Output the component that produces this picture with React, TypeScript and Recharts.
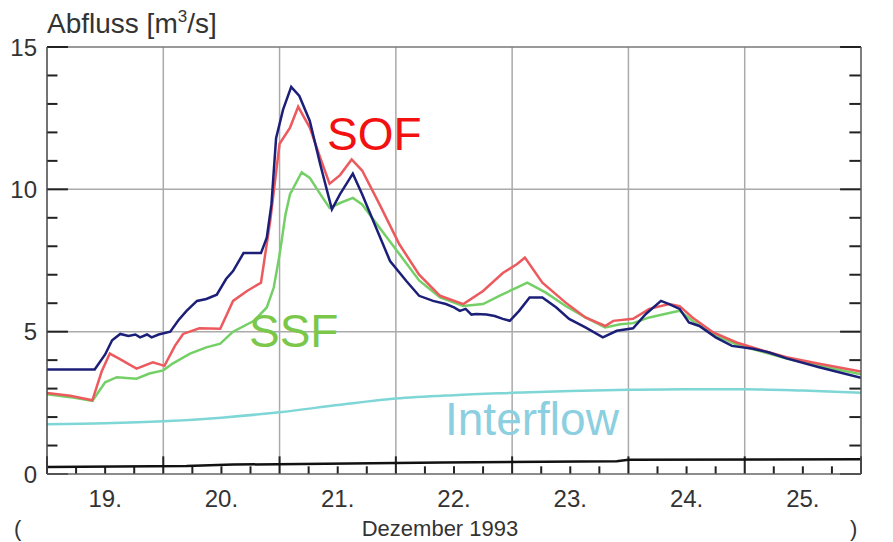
import React from 'react';
import { LineChart, Line, XAxis, YAxis, ReferenceLine } from 'recharts';

// time axis: days since 19 Dec 1993, 00:00
const obsT = [0, 0.41, 0.5, 0.56, 0.63, 0.7, 0.76, 0.8, 0.86, 0.9, 0.96, 1.06, 1.13, 1.2, 1.29, 1.37, 1.46, 1.54, 1.6, 1.69, 1.84, 1.89, 1.93, 1.97, 2.03, 2.1, 2.17, 2.26, 2.35, 2.45, 2.52, 2.63, 2.71, 2.83, 2.95, 3.09, 3.2, 3.32, 3.43, 3.5, 3.55, 3.6, 3.65, 3.69, 3.78, 3.85, 3.92, 3.98, 4.06, 4.15, 4.26, 4.38, 4.49, 4.63, 4.78, 4.9, 5.04, 5.15, 5.28, 5.35, 5.44, 5.52, 5.61, 5.75, 5.89, 6.07, 6.21, 6.36, 6.64, 7.0];
const obsQ = [3.67, 3.67, 4.2, 4.7, 4.92, 4.85, 4.9, 4.8, 4.9, 4.8, 4.9, 5.0, 5.4, 5.73, 6.08, 6.15, 6.3, 6.85, 7.13, 7.76, 7.76, 8.3, 9.47, 11.8, 12.8, 13.6, 13.28, 12.4, 10.87, 9.3, 9.83, 10.55, 9.83, 8.65, 7.48, 6.78, 6.26, 6.08, 5.97, 5.85, 5.73, 5.8, 5.6, 5.62, 5.6, 5.55, 5.45, 5.38, 5.73, 6.2, 6.2, 5.85, 5.45, 5.15, 4.8, 5.03, 5.12, 5.62, 6.08, 5.97, 5.8, 5.32, 5.2, 4.8, 4.5, 4.4, 4.27, 4.06, 3.75, 3.38];

const sofT = [0, 0.2, 0.39, 0.47, 0.54, 0.62, 0.77, 0.91, 1.01, 1.1, 1.17, 1.31, 1.49, 1.6, 1.72, 1.84, 1.92, 2.0, 2.09, 2.16, 2.26, 2.35, 2.43, 2.52, 2.62, 2.71, 2.86, 3.03, 3.2, 3.38, 3.58, 3.75, 3.92, 4.04, 4.11, 4.26, 4.46, 4.63, 4.8, 4.87, 5.04, 5.18, 5.35, 5.44, 5.55, 5.73, 5.93, 6.16, 6.36, 6.64, 7.0];
const sofQ = [2.85, 2.75, 2.59, 3.6, 4.23, 4.05, 3.7, 3.92, 3.8, 4.5, 4.92, 5.12, 5.1, 6.08, 6.43, 6.72, 8.9, 11.6, 12.17, 12.9, 12.17, 11.1, 10.2, 10.5, 11.05, 10.66, 9.47, 8.07, 7.0, 6.26, 5.97, 6.43, 7.06, 7.37, 7.6, 6.72, 6.02, 5.5, 5.2, 5.38, 5.45, 5.8, 5.97, 5.9, 5.5, 4.97, 4.62, 4.33, 4.1, 3.87, 3.6];

const ssfT = [0, 0.2, 0.39, 0.5, 0.6, 0.77, 0.88, 1.0, 1.08, 1.23, 1.37, 1.49, 1.6, 1.78, 1.89, 1.95, 2.0, 2.05, 2.09, 2.19, 2.26, 2.35, 2.43, 2.52, 2.63, 2.71, 2.86, 3.03, 3.2, 3.38, 3.58, 3.75, 3.89, 4.04, 4.13, 4.29, 4.46, 4.63, 4.8, 4.93, 5.04, 5.18, 5.38, 5.44, 5.55, 5.73, 5.93, 6.16, 6.36, 6.64, 7.0];
const ssfQ = [2.8, 2.7, 2.57, 3.22, 3.4, 3.35, 3.53, 3.64, 3.88, 4.23, 4.45, 4.58, 5.0, 5.38, 5.85, 6.55, 7.7, 9.1, 9.83, 10.6, 10.4, 9.83, 9.35, 9.52, 9.7, 9.47, 8.65, 7.73, 6.8, 6.2, 5.9, 5.97, 6.26, 6.55, 6.72, 6.37, 5.9, 5.5, 5.15, 5.26, 5.3, 5.5, 5.68, 5.73, 5.38, 4.9, 4.55, 4.28, 4.06, 3.8, 3.5];

const ifT = [0, 0.5, 1, 1.5, 2, 2.5, 3, 3.5, 4, 4.5, 5, 5.5, 6, 6.5, 7];
const ifQ = [1.75, 1.78, 1.85, 1.98, 2.17, 2.42, 2.65, 2.77, 2.85, 2.92, 2.96, 2.98, 2.98, 2.93, 2.85];

const baseT = [0, 1.2, 1.6, 2.8, 3.4, 4.9, 5.0, 7];
const baseQ = [0.25, 0.28, 0.33, 0.38, 0.4, 0.45, 0.5, 0.52];

const dayLabels = ['19.', '20.', '21.', '22.', '23.', '24.', '25.'];
const xLabelTicks = [0.5, 1.5, 2.5, 3.5, 4.5, 5.5, 6.5];
const xMinorTicks = Array.from({ length: 29 }, (_, i) => i * 0.25);
const yMinorTicks = Array.from({ length: 16 }, (_, i) => i);
const yLabelled = [0, 5, 10, 15];
const gridX = [1, 2, 3, 4, 5, 6];
const gridY = [5, 10];

// tick mark lengths, in axis units (days / m3/s)
const X_DOMAIN: [number, number] = [0, 7];
const Y_DOMAIN: [number, number] = [0, 15];
const LEFT_MINOR = 0.09, LEFT_MAJOR = 0.18, RIGHT_MINOR = 0.1, RIGHT_MAJOR = 0.18;
const X_MINOR = 0.27, X_MAJOR = 0.62;

const rows = (t: number[], q: number[]) => t.map((x, i) => ({ t: x, q: q[i] }));
const obsData = rows(obsT, obsQ);
const sofData = rows(sofT, sofQ);
const ssfData = rows(ssfT, ssfQ);
const ifData = rows(ifT, ifQ);
const baseData = rows(baseT, baseQ);

const FONT = '"Liberation Sans", Arial, Helvetica, sans-serif';
const TICK_COL = '#333';
const TICK_STROKE = '#222';

const XLabel = (props: any) => {
  const { x, y, payload } = props;
  return (
    <text x={x} y={y + 33} textAnchor="middle" fontSize={24} fontFamily={FONT} fill={TICK_COL}>
      {dayLabels[Math.floor(payload.value)]}
    </text>
  );
};

const LeftLabel = (props: any) => {
  const { y, payload } = props;
  return (
    <text x={37} y={y} dy={8.5} textAnchor="end" fontSize={24} fontFamily={FONT} fill={TICK_COL}>
      {payload.value}
    </text>
  );
};

const RightLabel = (props: any) => {
  const { y, payload } = props;
  return (
    <text x={867} y={y} dy={8.5} textAnchor="start" fontSize={24} fontFamily={FONT} fill={TICK_COL}>
      {payload.value}
    </text>
  );
};

export default function App() {
  return (
    <div style={{ position: 'absolute', left: 0, top: 0, width: 893, height: 542, background: '#fff' }}>
      <LineChart width={893} height={542} margin={{ top: 47, right: 0, bottom: 0, left: 7 }}>
        <XAxis type="number" dataKey="t" domain={X_DOMAIN} ticks={xLabelTicks} interval={0}
          height={68} tickSize={0} tickMargin={0} tickLine={false} tick={<XLabel />}
          axisLine={{ stroke: '#666', strokeWidth: 1.5 }} allowDataOverflow />
        <YAxis yAxisId="left" orientation="left" type="number" domain={Y_DOMAIN} ticks={yLabelled} interval={0}
          width={40} tickSize={0} tickMargin={0} tickLine={false} tick={<LeftLabel />}
          axisLine={{ stroke: '#444', strokeWidth: 1.5 }} />
        <YAxis yAxisId="right" orientation="right" type="number" domain={Y_DOMAIN} ticks={yLabelled} interval={0}
          width={32} tickSize={0} tickMargin={0} tickLine={false} tick={<RightLabel />}
          axisLine={{ stroke: '#555', strokeWidth: 1.5 }} />

        {gridX.map((g) => (
          <ReferenceLine key={'gx' + g} x={g} yAxisId="left" stroke="#aaa" strokeWidth={1.5} />
        ))}
        {gridY.map((g) => (
          <ReferenceLine key={'gy' + g} y={g} yAxisId="left" stroke="#aaa" strokeWidth={1.5} />
        ))}
        <ReferenceLine y={15} yAxisId="left" stroke="#777" strokeWidth={1.5} />

        {yMinorTicks.map((v) => (
          <ReferenceLine key={'lt' + v} yAxisId="left" ifOverflow="visible" stroke={TICK_STROKE} strokeWidth={2}
            segment={[{ x: X_DOMAIN[0], y: v }, { x: X_DOMAIN[0] + (v % 5 === 0 ? LEFT_MAJOR : LEFT_MINOR), y: v }]} />
        ))}
        {yMinorTicks.map((v) => (
          <ReferenceLine key={'rt' + v} yAxisId="left" ifOverflow="visible" stroke={TICK_STROKE} strokeWidth={2}
            segment={[{ x: X_DOMAIN[1] - (v % 5 === 0 ? RIGHT_MAJOR : RIGHT_MINOR), y: v }, { x: X_DOMAIN[1], y: v }]} />
        ))}
        {xMinorTicks.map((t) => (
          <ReferenceLine key={'xt' + t} yAxisId="left" ifOverflow="visible" stroke={TICK_STROKE} strokeWidth={2}
            segment={[{ x: t, y: Y_DOMAIN[0] }, { x: t, y: Y_DOMAIN[0] + (Number.isInteger(t) ? X_MAJOR : X_MINOR) }]} />
        ))}

        <Line data={baseData} dataKey="q" yAxisId="left" stroke="#111" strokeWidth={2.5} dot={false} isAnimationActive={false} type="linear" />
        <Line data={ifData} dataKey="q" yAxisId="left" stroke="#7fd6d6" strokeWidth={2.5} dot={false} isAnimationActive={false} type="monotone" />
        <Line data={ssfData} dataKey="q" yAxisId="left" stroke="#74d066" strokeWidth={2.5} dot={false} isAnimationActive={false} type="linear" />
        <Line data={sofData} dataKey="q" yAxisId="left" stroke="#ec5a5e" strokeWidth={2.5} dot={false} isAnimationActive={false} type="linear" />
        <Line data={obsData} dataKey="q" yAxisId="left" stroke="#1c1f78" strokeWidth={2.5} dot={false} isAnimationActive={false} type="linear" />
      </LineChart>
      <svg width={893} height={542} style={{ position: 'absolute', left: 0, top: 0, pointerEvents: 'none' }}>
        <text x={47} y={33} fontSize={28} fontFamily={FONT} fill="#333">
          Abfluss [m<tspan fontSize={17} dy={-11}>3</tspan><tspan dy={11}>/s]</tspan>
        </text>
        <text x={327} y={150} fontSize={46} fontFamily={FONT} fill="#f21010">SOF</text>
        <text x={249} y={347} fontSize={46} fontFamily={FONT} fill="#7ac74a">SSF</text>
        <text x={445} y={435} fontSize={46} fontFamily={FONT} fill="#8ccfe0">Interflow</text>
        <text x={440} y={536} textAnchor="middle" fontSize={22} fontFamily={FONT} fill="#333">Dezember 1993</text>
        <text x={14} y={536} fontSize={22} fontFamily={FONT} fill="#333">(</text>
        <text x={850} y={536} fontSize={22} fontFamily={FONT} fill="#333">)</text>
      </svg>
    </div>
  );
}
